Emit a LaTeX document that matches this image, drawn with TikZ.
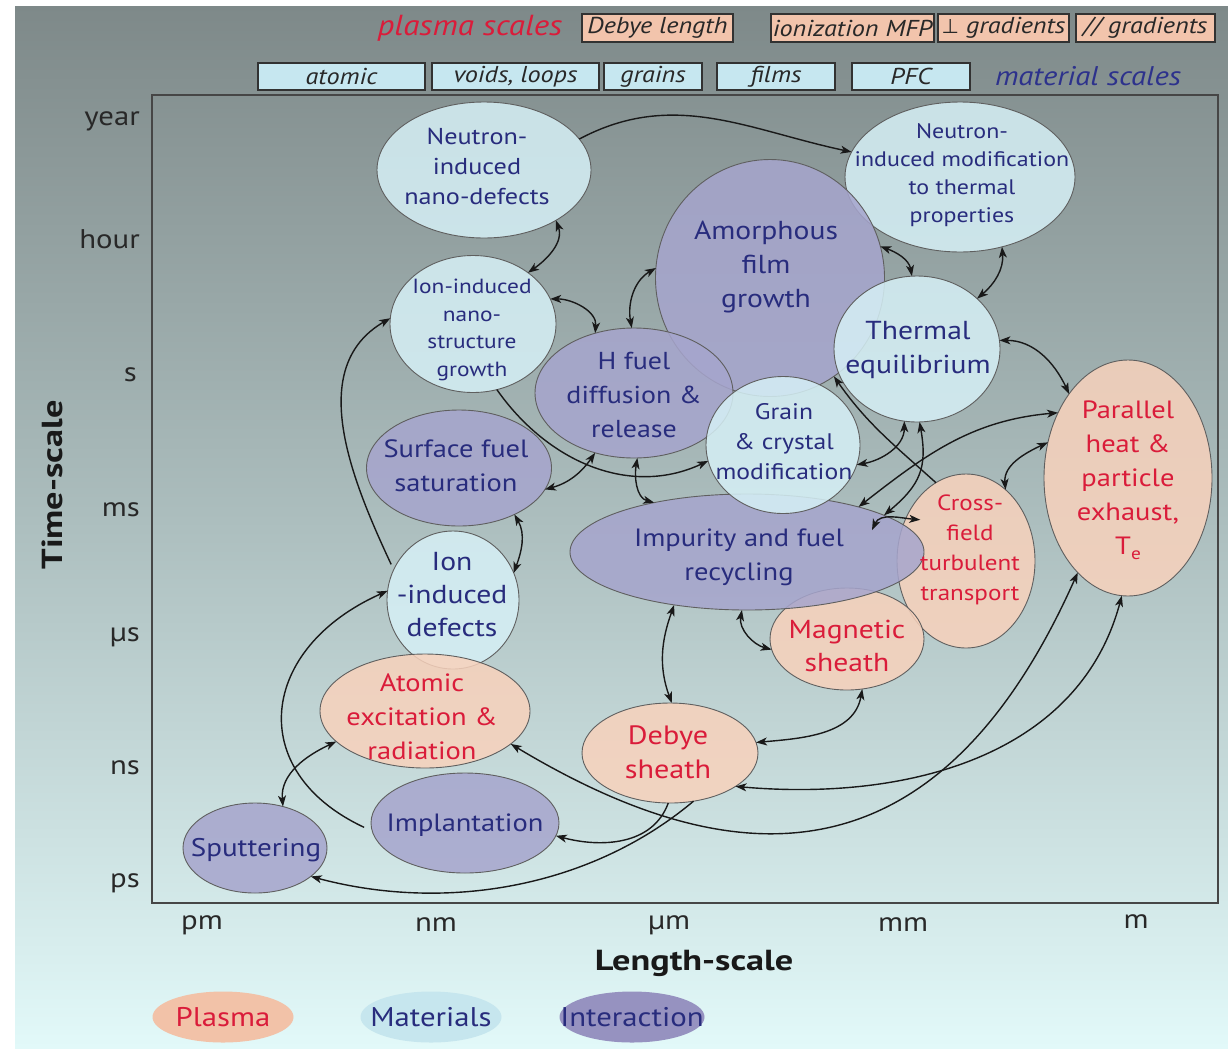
\documentclass[tikz,border=0pt]{standalone}
\usepackage{fontspec}
\setmainfont{PT Sans}[FakeStretch=1.14]
\newfontfamily\titlef{PT Sans}[FakeStretch=1.25]
\newfontfamily\symf{DejaVu Sans}
\usetikzlibrary{arrows.meta,shapes.geometric}
\definecolor{plasmafill}{RGB}{248,210,188}
\definecolor{matfill}{RGB}{214,240,246}
\definecolor{intfill}{RGB}{166,165,205}
\definecolor{plasmatxt}{RGB}{218,28,58}
\definecolor{navytxt}{RGB}{40,44,125}
\definecolor{ellborder}{RGB}{95,95,95}
\definecolor{bgtop}{RGB}{126,137,137}
\definecolor{bgmid}{RGB}{172,190,190}
\definecolor{bgbot}{RGB}{226,249,249}
\definecolor{boxpeach}{RGB}{242,196,172}
\definecolor{boxblue}{RGB}{198,231,240}
\definecolor{boxborder}{RGB}{50,50,50}
\definecolor{ticktxt}{RGB}{40,40,40}
\definecolor{arrowc}{RGB}{25,25,25}
\definecolor{framec}{RGB}{70,70,70}
\definecolor{legpl}{RGB}{242,194,168}
\definecolor{legma}{RGB}{198,230,238}
\definecolor{legit}{RGB}{150,146,192}
\definecolor{matscale}{RGB}{45,50,140}
\newcommand\fsz[2]{\fontsize{#1}{#2}\selectfont}
\begin{document}
\begin{tikzpicture}[x=1pt,y=1pt,
  ell/.style={ellipse, draw=ellborder, line width=0.9pt, inner sep=0pt, outer sep=0pt, fill opacity=0.85},
  pl/.style={ell, fill=plasmafill},
  ma/.style={ell, fill=matfill},
  it/.style={ell, fill=intfill},
  mtxt/.style={align=center, inner sep=0pt, text=navytxt},
  ptxt/.style={align=center, inner sep=0pt, text=plasmatxt},
  tip/.tip={Stealth[length=11pt,width=8pt,inset=3pt]},
  arr/.style={draw=arrowc, line width=1.4pt, -tip},
  dbl/.style={draw=arrowc, line width=1.4pt, tip-tip},
  pbox/.style={rectangle, draw=boxborder, line width=1.3pt, fill=boxpeach, minimum height=28pt, inner sep=0pt, text=ticktxt, font=\fsz{23}{26}\itshape},
  mbox/.style={rectangle, draw=boxborder, line width=1.3pt, fill=boxblue, minimum height=27pt, inner sep=0pt, text=ticktxt, font=\fsz{23}{26}\itshape},
  tick/.style={text=ticktxt, inner sep=0pt, font=\fsz{27}{30}},
  legell/.style={ellipse, inner sep=0pt, minimum height=51pt},
  legtxt/.style={inner sep=0pt, font=\fsz{27}{30}}
]
\useasboundingbox (0,0) rectangle (1228,-1050);
\fill[white] (0,0) rectangle (1228,-1050);
\shade[top color=bgtop, bottom color=bgmid] (15,-6) rectangle (1228,-521);
\shade[top color=bgmid, bottom color=bgbot] (15,-520) rectangle (1228,-1048);
\draw[line width=1.8pt, draw=framec] (152,-95) rectangle (1218,-903);

% scale boxes
\node[text=plasmatxt, font=\fsz{29}{32}\itshape, inner sep=0pt] (plsc) at (470,-28) {plasma scales};
\node[pbox, minimum width=151pt] (bDebye) at (657.5,-28) {Debye length};
\node[pbox, minimum width=163pt] (bMFP) at (852.5,-28) {ionization MFP};
\node[pbox, minimum width=131pt] (bperp) at (1003.5,-28) {{\symf\upshape\fsz{20}{26}⊥} gradients};
\node[pbox, minimum width=139pt] (bpar) at (1145.5,-28) {// gradients};
\node[mbox, minimum width=167pt] (batom) at (341.5,-76.5) {atomic};
\node[mbox, minimum width=167pt] (bvoid) at (515.5,-76.5) {voids, loops};
\node[mbox, minimum width=98pt] (bgrain) at (653,-76.5) {grains};
\node[mbox, minimum width=118pt] (bfilm) at (776,-76.5) {films};
\node[mbox, minimum width=118pt] (bpfc) at (911,-76.5) {PFC};
\node[text=matscale, font=\fsz{27}{30}\itshape, inner sep=0pt] (masc) at (1088,-76) {material scales};

% axes
\node[tick, anchor=mid east] (ty1) at (140,-123) {year};
\node[tick, anchor=mid east] (ty2) at (140,-246) {hour};
\node[tick, anchor=mid east] (ty3) at (137,-379) {s};
\node[tick, anchor=mid east] (ty4) at (140,-514) {ms};
\node[tick, anchor=mid east] (ty5) at (140,-639) {µs};
\node[tick, anchor=mid east] (ty6) at (140,-772) {ns};
\node[tick, anchor=mid east] (ty7) at (140,-885) {ps};
\node[tick] (tx1) at (202,-925) {pm};
\node[tick] (tx2) at (436,-925) {nm};
\node[tick] (tx3) at (669,-925) {µm};
\node[tick] (tx4) at (903,-925) {mm};
\node[tick] (tx5) at (1136,-922) {m};
\node[rotate=90, text=black!90, font=\titlef\fsz{29}{32}\bfseries, inner sep=0pt] (tsl) at (52,-485) {Time-scale};
\node[text=black!90, font=\titlef\fsz{29}{32}\bfseries, inner sep=0pt] (lsl) at (694,-963) {Length-scale};

% legend
\node[legell, fill=legpl, minimum width=141pt] (LP) at (223,-1017) {};
\node[legell, fill=legma, minimum width=141pt] (LM) at (431,-1017) {};
\node[legell, fill=legit, minimum width=145pt] (LI) at (632,-1017) {};
\node[legtxt, text=plasmatxt] (LPt) at (LP.center) {Plasma};
\node[legtxt, text=navytxt] (LMt) at (LM.center) {Materials};
\node[legtxt, text=navytxt] (LIt) at (LI.center) {Interaction};

% ellipses
\node[ma, minimum width=214pt, minimum height=136pt] (NND) at (484,-170) {};
\node[ma, minimum width=230pt, minimum height=150pt] (NMT) at (960,-177) {};
\node[it, minimum width=229pt, minimum height=237pt] (AFG) at (770,-278) {};
\node[ma, minimum width=166pt, minimum height=146pt] (TEQ) at (917,-349) {};
\node[it, minimum width=198pt, minimum height=130pt] (HFD) at (634,-393) {};
\node[pl, minimum width=138pt, minimum height=174pt] (CFT) at (966,-561) {};
\node[pl, minimum width=154pt, minimum height=102pt] (MGS) at (847,-639) {};
\node[it, minimum width=354pt, minimum height=116pt] (IFR) at (747,-552) {};
\node[ma, minimum width=154pt, minimum height=137pt] (GCM) at (783,-445) {};
\node[it, minimum width=185pt, minimum height=116pt] (SFS) at (459,-468) {};
\node[ma, minimum width=166pt, minimum height=137pt] (INS) at (473,-324) {};
\node[ma, minimum width=132pt, minimum height=138pt] (IID) at (453,-600) {};
\node[pl, minimum width=210pt, minimum height=114pt] (AER) at (425,-711) {};
\node[pl, minimum width=176pt, minimum height=100pt] (DBS) at (670,-753) {};
\node[it, minimum width=188pt, minimum height=100pt] (IMP) at (465,-823) {};
\node[it, minimum width=144pt, minimum height=90pt] (SPT) at (255,-848) {};
\node[pl, minimum width=168pt, minimum height=236pt] (PHE) at (1128,-478) {};

% connectors
\draw[arr] (NND.18) to[out=28,in=168] (NMT.167);
\draw[dbl] (NND.-35) to[out=-70,in=35] (INS.43);
\draw[dbl] (INS.18) to[out=0,in=85] (HFD.123);
\draw[dbl] (AFG.175) to[out=210,in=100] (HFD.92);
\draw[dbl] (AFG.16) to[out=-20,in=100] (TEQ.94);
\draw[dbl] (NMT.-59) to[out=-85,in=40] (TEQ.40);
\draw[dbl] (TEQ.6) to[out=0,in=115] (PHE.125);
\draw[arr] (INS.-70) to[out=-55,in=205] (GCM.192);
\draw[dbl] (SFS.-14) to[out=15,in=235] (HFD.237);
\draw[dbl] (HFD.-87) to[out=-100,in=165] (IFR.152);
\draw[dbl] (SFS.-40) to[out=-60,in=70] (IID.24);
\draw[arr, shorten <=6pt] (IID.153) to[out=115,in=210] (INS.176);
\draw[arr, shorten <=9pt] (IMP.185) to[out=155,in=204,looseness=1.5] (IID.172);
\draw[dbl] (AER.199) to[out=205,in=95] (SPT.56);
\draw[dbl] (AER.-21) to[out=-31,in=246,out distance=244pt,in distance=359pt] (PHE.242);
\draw[dbl] (DBS.-27) to[out=-5,in=255] (PHE.267);
\draw[arr] (DBS.268) to[out=-110,in=-15] (IMP.352);
\draw[arr] (DBS.-64) to[out=-140,in=-15,looseness=0.9] (SPT.-27);
\draw[dbl] (IFR.216) to[out=250,in=110] (DBS.88);
\draw[dbl] (IFR.265) to[out=-100,in=165] (MGS.188);
\draw[dbl] (MGS.-73) to[out=-100,in=5] (DBS.7);
\draw[dbl] (CFT.61) to[out=95,in=205] (PHE.156);
\draw[dbl] (IFR.22) to[out=38,in=185] (PHE.137);
\draw[dbl] (GCM.-15) to[out=10,in=-90] (TEQ.260);
\draw[dbl] (TEQ.-88) to[out=-80,in=40,looseness=1.2] (IFR.15);
\draw[arr] (CFT.111) to[out=138,in=-55] (AFG.-57.5);
\draw[dbl] ([shift={(17,5)}]CFT.150) to[out=175,in=65] ([shift={(-46,7)}]IFR.5);

% texts
\node[mtxt, font=\fsz{23}{30}] (NNDt) at (477,-166) {Neutron-\\induced\\nano-defects};
\node[mtxt, font=\fsz{21}{28}] (NMTt) at (962,-175) {Neutron-\\induced modification\\to thermal\\properties};
\node[mtxt, font=\fsz{26}{34}] (AFGt) at (766,-267) {Amorphous\\film\\growth};
\node[mtxt, font=\fsz{20.5}{27.5}] (INSt) at (472,-330) {Ion-induced\\nano-\\structure\\growth};
\node[mtxt, font=\fsz{24.5}{34}] (HFDt) at (634,-395) {H fuel\\diffusion \&\\release};
\node[mtxt, font=\fsz{26}{34}] (TEQt) at (918,-350) {Thermal\\equilibrium};
\node[mtxt, font=\fsz{22.5}{30}] (GCMt) at (784,-442) {Grain\\\& crystal\\modification};
\node[mtxt, font=\fsz{25}{34}] (SFSt) at (456,-466) {Surface fuel\\saturation};
\node[ptxt, font=\fsz{25}{34}] (PHEt) at (1128,-480) {Parallel\\heat \&\\particle\\exhaust,\\T\raisebox{-5pt}{\fsz{17}{17}e}};
\node[mtxt, font=\fsz{25}{34}] (IFRt) at (739,-557) {Impurity and fuel\\recycling};
\node[ptxt, font=\fsz{22}{30}] (CFTt) at (970,-550) {Cross-\\field\\turbulent\\transport};
\node[mtxt, font=\fsz{26}{33}] (IIDt) at (452,-595) {Ion\\-induced\\defects};
\node[ptxt, font=\fsz{26}{33}] (MGSt) at (847,-646) {Magnetic\\sheath};
\node[ptxt, font=\fsz{25}{34}] (AERt) at (422,-717) {Atomic\\excitation \&\\radiation};
\node[ptxt, font=\fsz{26.5}{34}] (DBSt) at (668,-752) {Debye\\sheath};
\node[mtxt, font=\fsz{25}{30}] (IMPt) at (465,-825) {Implantation};
\node[mtxt, font=\fsz{25.5}{30}] (SPTt) at (256,-850) {Sputtering};
\end{tikzpicture}
\end{document}
